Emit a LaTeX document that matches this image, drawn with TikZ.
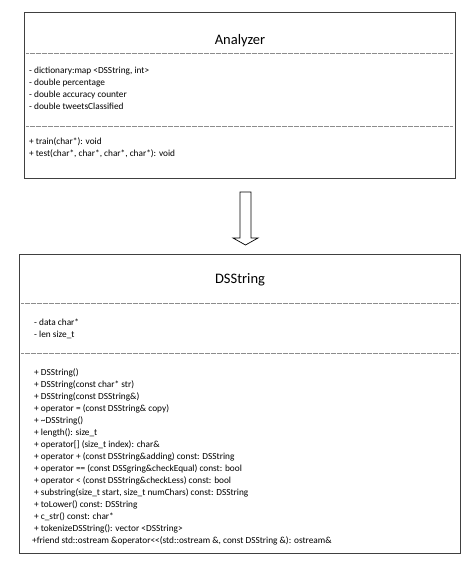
\documentclass[tikz,border=0pt]{standalone}
\usepackage{fontspec}
\setmainfont{Carlito}
\begin{document}
\begin{tikzpicture}[x=1pt,y=-1pt,
  boxline/.style={draw=black!75,line width=1.1pt},
  sepline/.style={draw=black!45,line width=0.9pt,dash pattern=on 0.6pt off 0.6pt},
  title/.style={font=\fontsize{14.5}{16}\selectfont,anchor=base,inner sep=0pt},
  member/.style={font=\fontsize{9.3}{12}\selectfont,anchor=base west,inner sep=0pt},
  bigarrow/.style={draw=black,line width=0.7pt,fill=white}]
\useasboundingbox (0,0) rectangle (475,580);
% Analyzer
\node[boxline,minimum width=431pt,minimum height=166pt,anchor=north west,inner sep=0pt] (an) at (24,12) {};
\node[title] (antitle) at (240,45) {Analyzer};
\coordinate (a1l) at (26,53); \coordinate (a1r) at (453,53);
\coordinate (a2l) at (26,126); \coordinate (a2r) at (453,126);
\draw[sepline] (a1l) -- (a1r);
\draw[sepline] (a2l) -- (a2r);
\foreach \t [count=\i] in {{- dictionary:map <DSString, int>},{- double percentage},{- double accuracy counter},{- double tweetsClassified}}
  \node[member] (aa\i) at (29,{62+12*\i}) {\t};
\foreach \t [count=\i] in {{+ train(char*): void},{+ test(char*, char*, char*, char*): void}}
  \node[member] (am\i) at (29,{133+12*\i}) {\t};
% DSString
\node[boxline,minimum width=441pt,minimum height=299pt,anchor=north west,inner sep=0pt] (ds) at (19,254) {};
\node[title] (dstitle) at (240,283) {DSString};
\coordinate (d1l) at (21,303); \coordinate (d1r) at (458,303);
\coordinate (d2l) at (21,353); \coordinate (d2r) at (458,353);
\draw[sepline] (d1l) -- (d1r);
\draw[sepline] (d2l) -- (d2r);
\foreach \t [count=\i] in {{- data char*},{- len size\_t}}
  \node[member] (da\i) at (34,{313+12*\i}) {\t};
\foreach \t [count=\i] in {{+ DSString()},{+ DSString(const char* str)},{+ DSString(const DSString\&)},{+ operator = (const DSString\& copy)},{+ \textasciitilde DSString()},{+ length(): size\_t},{+ operator[] (size\_t index): char\&},{+ operator + (const DSString\&adding) const: DSString},{+ operator == (const DSSgring\&checkEqual) const: bool},{+ operator < (const DSString\&checkLess) const: bool},{+ substring(size\_t start, size\_t numChars) const: DSString},{+ toLower() const: DSString},{+ c\_str() const: char*},{+ tokenizeDSString(): vector <DSString>}}
  \node[member] (dm\i) at (34,{363+12*\i}) {\t};
\node[member] (dm15) at (32,543) {+friend std::ostream \&operator<{}<(std::ostream \&, const DSString \&): ostream\&};
% arrow
\draw[bigarrow] (240,192) -- (251,192) -- (251,238) -- (258,238) -- (245.5,245) -- (233,238) -- (240,238) -- cycle;
\end{tikzpicture}
\end{document}
